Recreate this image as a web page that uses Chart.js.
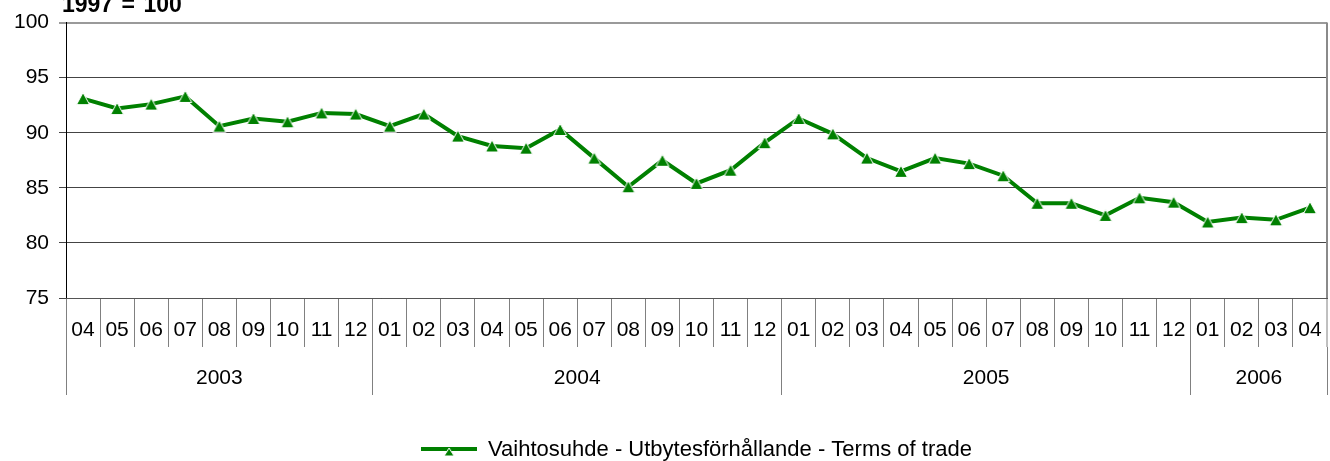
<!DOCTYPE html>
<html>
<head>
<meta charset="utf-8">
<script src="https://cdn.jsdelivr.net/npm/chart.js@4"></script>
<style>
  html, body { margin: 0; padding: 0; background: #fff; }
  #wrap { position: relative; width: 1330px; height: 461px; overflow: hidden; }
  #note { position: absolute; left: 62px; top: -7px; font: bold 23px "Liberation Sans", Arial, sans-serif;
          line-height: 23px; word-spacing: 2px; color: #000; }
</style>
</head>
<body>
<div id="wrap">
  <canvas id="tot"></canvas>
  <div id="note">1997 = 100</div>
</div>
<script>
// months 2003-04 .. 2006-04
const months = ['04', '05', '06', '07', '08', '09', '10', '11', '12',
    '01', '02', '03', '04', '05', '06', '07', '08', '09', '10', '11', '12',
    '01', '02', '03', '04', '05', '06', '07', '08', '09', '10', '11', '12',
    '01', '02', '03', '04'];
const years = ['2003', '2004', '2005', '2006'];
const monthsInYear = [9, 12, 12, 4];
const termsOfTrade = [93.1, 92.2, 92.6, 93.3, 90.6, 91.3, 91.0, 91.8, 91.7,
    90.6, 91.7, 89.7, 88.8, 88.6, 90.3, 87.7, 85.1, 87.5, 85.4, 86.6, 89.1,
    91.3, 89.9, 87.7, 86.5, 87.7, 87.2, 86.1, 83.6, 83.6, 82.5, 84.1, 83.7,
    81.9, 82.3, 82.1, 83.2];
const seriesName = 'Vaihtosuhde - Utbytesförhållande - Terms of trade';

const green = '#008000';

// year axis: edges between years + middle of each year
const yearEdges = [];
const yearMids = [];
let start = -0.5;
monthsInYear.forEach(n => {
    yearEdges.push(start);
    yearMids.push(start + n / 2);
    start += n;
});
yearEdges.push(start);

// excel style triangle, centred in its box, white outline
function triangle(g, cx, cy, w, h) {
    g.fillStyle = green;
    g.strokeStyle = '#fff';
    g.lineWidth = 1;
    g.beginPath();
    g.moveTo(cx, cy - h / 2);
    g.lineTo(cx + w / 2, cy + h / 2);
    g.lineTo(cx - w / 2, cy + h / 2);
    g.closePath();
    g.fill();
    g.stroke();
}

function markerIcon() {
    const c = document.createElement('canvas');
    c.width = 16;
    c.height = 15;
    triangle(c.getContext('2d'), 8, 7.5, 13, 12);
    return c;
}

function legendIcon() {
    const c = document.createElement('canvas');
    c.width = 56;
    c.height = 14;
    const g = c.getContext('2d');
    g.strokeStyle = green;
    g.lineWidth = 4;
    g.beginPath(); g.moveTo(0, 6); g.lineTo(56, 6); g.stroke();
    triangle(g, 28, 9, 10, 8);
    return c;
}
const marker = markerIcon();
const icon = legendIcon();

// fixed height, no extra side padding for the bottom axes
const noSidePad = (s, h) => {
    s.height = h;
    s.paddingLeft = 0;
    s.paddingRight = 0;
};

Chart.defaults.font.family = '"Liberation Sans", Arial, sans-serif';
Chart.defaults.color = '#000';

new Chart(document.getElementById('tot'), {
    type: 'line',
    data: {
        labels: months,
        datasets: [{
            label: seriesName,
            data: termsOfTrade,
            borderColor: green,
            borderWidth: 4,
            tension: 0,
            fill: false,
            pointStyle: marker,
            pointRadius: 7,
            pointBackgroundColor: green,
            pointBorderColor: '#fff',
            xAxisID: 'x',
            yAxisID: 'y'
        }]
    },
    options: {
        responsive: true,
        maintainAspectRatio: false,
        animation: false,
        layout: { autoPadding: false, padding: { top: 22, left: 0, right: 3, bottom: -10 } },
        plugins: {
            title: { display: false },
            tooltip: { enabled: false },
            legend: {
                position: 'bottom',
                fullSize: false,
                labels: {
                    usePointStyle: true,
                    pointStyleWidth: 56,
                    padding: 44,
                    color: '#000',
                    font: { size: 22 },
                    generateLabels: chart => Chart.defaults.plugins.legend.labels.generateLabels(chart)
                        .map(l => Object.assign(l, { pointStyle: icon }))
                }
            }
        },
        scales: {
            y: {
                position: 'left',
                min: 75,
                max: 100,
                afterFit: s => { s.width = 66; },
                ticks: { stepSize: 5, padding: 10, font: { size: 21 }, color: '#000' },
                grid: {
                    color: ctx => ctx.tick && ctx.tick.value === 100 ? '#9a9a9a' : '#444',
                    lineWidth: ctx => ctx.tick && ctx.tick.value === 100 ? 2 : 1,
                    tickLength: 7
                },
                border: { color: '#000', width: 1 }
            },
            x: {
                type: 'category',
                position: 'bottom',
                weight: 0,
                offset: true,
                afterFit: s => noSidePad(s, 49),
                ticks: { autoSkip: false, maxRotation: 0, padding: -29, font: { size: 21 }, color: '#000' },
                grid: {
                    offset: true,
                    tickLength: 49,
                    // only the closing line on the right (scale context) shows in the plot
                    color: ctx => ctx.type === 'tick' ? 'rgba(0,0,0,0)' : '#8a8a8a',
                    lineWidth: ctx => ctx.type === 'tick' ? 1 : 2,
                    tickColor: '#808080',
                    tickWidth: 1
                },
                border: { color: '#555', width: 1 }
            },
            years: {
                type: 'linear',
                position: 'bottom',
                weight: 1,
                min: yearEdges[0],
                max: yearEdges[yearEdges.length - 1],
                afterFit: s => noSidePad(s, 48),
                afterBuildTicks: s => {
                    s.ticks = yearEdges.concat(yearMids).sort((a, b) => a - b).map(v => ({ value: v }));
                },
                ticks: {
                    autoSkip: false,
                    maxRotation: 0,
                    padding: -29,
                    font: { size: 21 },
                    color: '#000',
                    callback: v => {
                        const i = yearMids.indexOf(v);
                        return i >= 0 ? years[i] : '';
                    }
                },
                grid: {
                    drawOnChartArea: false,
                    tickLength: 48,
                    color: ctx => ctx.tick && yearEdges.includes(ctx.tick.value) ? '#808080' : 'rgba(0,0,0,0)'
                },
                border: { display: false }
            }
        }
    }
});
</script>
</body>
</html>
